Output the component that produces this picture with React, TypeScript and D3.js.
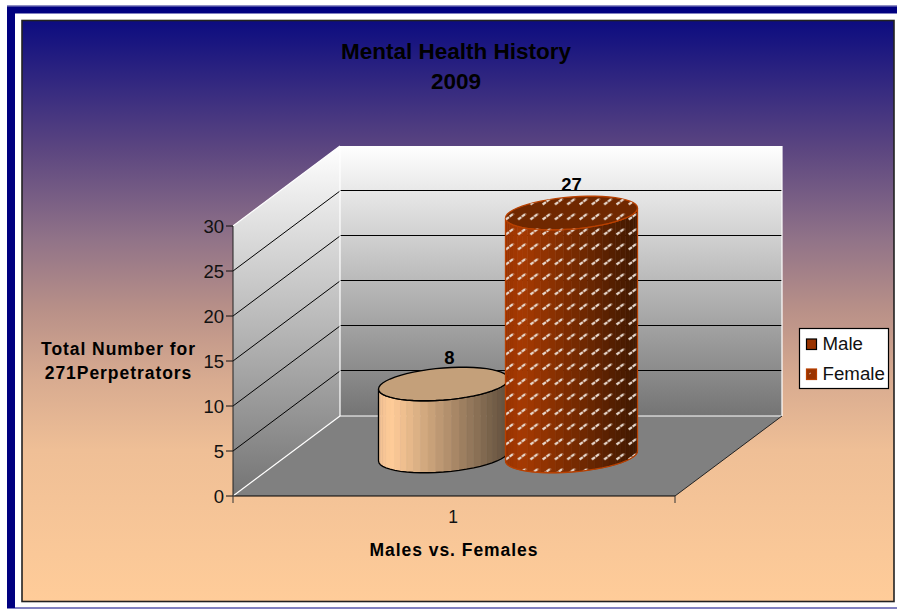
import React from 'react';
import * as d3 from 'd3';

const categories = ['1'];
const seriesNames = ['Male', 'Female'];
const seriesValues = [8, 27];
const yTicks = [0, 5, 10, 15, 20, 25, 30];
const titleLines = ['Mental Health History', '2009'];
const yTitleLines = ['Total Number for', '271Perpetrators'];
const xTitle = 'Males vs. Females';

const FONT = '"Liberation Sans", Arial, sans-serif';

// 3d box of the plot
const front = { left: 233, right: 675, bottom: 496, top: 226 };
const depth = { x: 107, y: -80 };

const y = d3.scaleLinear().domain([0, 30]).range([front.bottom, front.top]);
const xCat = d3.scaleBand().domain(categories).range([front.left, front.right]);
const xSeries = d3
  .scaleBand()
  .domain(seriesNames)
  .range([front.left + depth.x / 2, front.right + depth.x / 2])
  .paddingOuter(0.7266)
  .paddingInner(0);

const RY = 16;
const TILT = 5;
const FACETS = 26;

const shades = {
  Male: d3.scaleLinear<string>().domain([0, 0.1, 1]).range(['#f0c093', '#ffcc99', '#5f4e3c']),
  Female: d3.scaleLinear<string>().domain([0, 0.12, 1]).range(['#993300', '#a63a02', '#3f1800']),
};

const rimPoint = (cx: number, cy: number, rx: number, t: number): [number, number] => [
  cx + rx * Math.cos(t),
  cy + RY * Math.sin(t) - TILT * Math.cos(t),
];

const closed = d3.line().curve(d3.curveLinearClosed);
const capAngles = d3.range(FACETS * 2).map((i) => (i * Math.PI) / FACETS);

function Cylinder({ name, value }: { name: string; value: number }) {
  const female = name === 'Female';
  const rx = female ? 66 : 65;
  const cx = xSeries(name)! + xSeries.bandwidth() / 2;
  const base = front.bottom + depth.y / 2;
  const h = y(0) - y(value);
  const top = base - h;
  const stroke = female ? '#b84000' : '#000';
  const shade = shades[name as 'Male' | 'Female'];

  // visible facets run from the right rim (t=0) round the front to the left rim (t=PI)
  const sideAngles = d3.range(FACETS + 1).map((i) => (i * Math.PI) / FACETS);
  const facets = sideAngles.slice(0, -1).map((t, i) => {
    const t2 = sideAngles[i + 1];
    const [x1, y1] = rimPoint(cx, top, rx, t);
    const [x2, y2] = rimPoint(cx, top, rx, t2);
    const [x3, y3] = rimPoint(cx, base, rx, t2);
    const [x4, y4] = rimPoint(cx, base, rx, t);
    const pos = ((x1 + x2) / 2 - (cx - rx)) / (2 * rx);
    const pts: [number, number][] = [[x1, y1], [x2, y2], [x3, y3], [x4, y4]];
    return { d: closed(pts)!, fill: shade(pos) };
  });
  const outline: [number, number][] = [
    ...sideAngles.map((t) => rimPoint(cx, base, rx, t)),
    ...sideAngles.slice().reverse().map((t) => rimPoint(cx, top, rx, t)),
  ];
  const cap = closed(capAngles.map((t) => rimPoint(cx, top, rx, t)))!;

  return (
    <g>
      {facets.map((f, i) => (
        <path key={i} d={f.d} fill={f.fill} stroke={f.fill} strokeWidth={0.5} />
      ))}
      {female && <path d={closed(outline)!} fill="url(#dashes)" />}
      <path d={closed(outline)!} fill="none" stroke={stroke} strokeWidth={1.3} />
      <path d={cap} fill={female ? '#702800' : '#c4a07a'} stroke={stroke} strokeWidth={1.3} />
      {female && <path d={cap} fill="url(#dashes)" stroke="none" />}
      <text
        x={cx + (female ? 0 : 6)}
        y={top - RY - (female ? 6 : 4)}
        textAnchor="middle"
        fontFamily={FONT}
        fontWeight="bold"
        fontSize={18.5}
        fill="#000"
      >
        {value}
      </text>
    </g>
  );
}

export default function App() {
  const backLeft = front.left + depth.x;
  const backRight = front.right + depth.x;
  const backTop = y(30) + depth.y;
  const backBottom = y(0) + depth.y;
  const sideWall = closed([
    [front.left, y(30)],
    [backLeft, backTop],
    [backLeft, backBottom],
    [front.left, y(0)],
  ])!;
  const floor = closed([
    [front.left, y(0)],
    [front.right, y(0)],
    [backRight, backBottom],
    [backLeft, backBottom],
  ])!;

  return (
    <svg
      width={897}
      height={610}
      style={{ position: 'absolute', left: 0, top: 0, background: '#fff' }}
    >
      <defs>
        <linearGradient id="panelBg" x1="0" y1="0" x2="0" y2="1">
          <stop offset="0" stopColor="#0c0c80" />
          <stop offset="0.22" stopColor="#5b4580" />
          <stop offset="0.377" stopColor="#917388" />
          <stop offset="0.497" stopColor="#b89088" />
          <stop offset="0.618" stopColor="#d8ab90" />
          <stop offset="0.74" stopColor="#efbf96" />
          <stop offset="1" stopColor="#ffcc99" />
        </linearGradient>
        <linearGradient id="wallBg" x1="0" y1="0" x2="0" y2="1">
          <stop offset="0" stopColor="#ffffff" />
          <stop offset="1" stopColor="#747474" />
        </linearGradient>
        <pattern id="dashes" width={12.3} height={15} patternUnits="userSpaceOnUse" y={3}>
          <path d="M1.5 6.5 L9.5 0.5" stroke="#e6d6cb" strokeWidth={2.2} strokeDasharray="4 0.8" />
        </pattern>
        <pattern id="swatchDots" width={8} height={8} patternUnits="userSpaceOnUse">
          <path d="M1 6 L3 5" stroke="#e8d8cc" strokeWidth={1} opacity={0.7} />
        </pattern>
      </defs>

      {/* page frame */}
      <rect x={7} y={5} width={900} height={603.5} fill="#000080" />
      <rect x={7} y={5} width={900} height={1.5} fill="#8f8fc4" />
      <rect x={15} y={13.5} width={890} height={594} fill="#fff" />
      <rect x={22} y={20.5} width={872} height={581} fill="url(#panelBg)" stroke="#222" strokeWidth={1.6} />

      {titleLines.map((t, i) => (
        <text
          key={t}
          x={456}
          y={59 + i * 30}
          textAnchor="middle"
          fontFamily={FONT}
          fontWeight="bold"
          fontSize={22.5}
          fill="#000"
        >
          {t}
        </text>
      ))}

      {/* walls and floor */}
      <rect
        x={backLeft}
        y={backTop}
        width={front.right - front.left}
        height={y(0) - y(30)}
        fill="url(#wallBg)"
      />
      <path d={sideWall} fill="url(#wallBg)" />
      <path d={floor} fill="#808080" />

      {yTicks.slice(1, -1).map((t) => (
        <g key={t} stroke="#000" strokeWidth={1}>
          <line x1={front.left} y1={y(t)} x2={backLeft} y2={y(t) + depth.y} />
          <line
            x1={backLeft}
            y1={y(t) + depth.y - 0.5}
            x2={backRight}
            y2={y(t) + depth.y - 0.5}
            shapeRendering="crispEdges"
          />
        </g>
      ))}
      <g stroke="#fff" strokeWidth={1.2} fill="none">
        <line x1={front.left} y1={y(0)} x2={backLeft} y2={backBottom} />
        <line x1={backLeft} y1={backBottom} x2={backRight} y2={backBottom} />
        <line x1={backRight} y1={backTop} x2={backRight} y2={backBottom} />
        <line x1={backLeft} y1={backTop} x2={backLeft} y2={backBottom} />
        <line x1={front.left} y1={y(30)} x2={backLeft} y2={backTop} />
      </g>

      {/* axes */}
      <line x1={front.right} y1={y(0)} x2={backRight} y2={backBottom} stroke="#222" strokeWidth={1} />
      <line x1={front.left} y1={y(0)} x2={front.right} y2={y(0)} stroke="#000" strokeWidth={1.2} />
      <line x1={front.left} y1={y(30)} x2={front.left} y2={y(0)} stroke="#222" strokeWidth={1} />
      {yTicks.map((t) => (
        <g key={t}>
          <line x1={front.left - 7} y1={y(t)} x2={front.left} y2={y(t)} stroke="#111" />
          <text
            x={front.left - 9}
            y={y(t) + 6.5}
            textAnchor="end"
            fontFamily={FONT}
            fontSize={18.5}
            fill="#111"
          >
            {t}
          </text>
        </g>
      ))}
      {[front.left, front.right].map((x) => (
        <line key={x} x1={x} y1={y(0)} x2={x} y2={y(0) + 7} stroke="#333" />
      ))}
      {categories.map((c) => (
        <text
          key={c}
          x={xCat(c)! + xCat.bandwidth() / 2 - 1}
          y={523}
          textAnchor="middle"
          fontFamily={FONT}
          fontSize={17.5}
          fill="#111"
        >
          {c}
        </text>
      ))}

      {seriesNames.map((n, i) => (
        <Cylinder key={n} name={n} value={seriesValues[i]} />
      ))}

      {yTitleLines.map((t, i) => (
        <text
          key={t}
          x={118.5}
          y={354.5 + i * 24.5}
          textAnchor="middle"
          fontFamily={FONT}
          fontWeight="bold"
          fontSize={17.5}
          letterSpacing={0.95}
          fill="#000"
        >
          {t}
        </text>
      ))}
      <text
        x={454}
        y={555.5}
        textAnchor="middle"
        fontFamily={FONT}
        fontWeight="bold"
        fontSize={17.5}
        letterSpacing={0.95}
        fill="#000"
      >
        {xTitle}
      </text>

      {/* legend */}
      <rect x={799.5} y={328.5} width={89} height={60} fill="#fff" stroke="#000" strokeWidth={1.2} />
      {seriesNames.map((n, i) => (
        <g key={n}>
          <rect
            x={806.5}
            y={339 + i * 30}
            width={10}
            height={10.5}
            fill="#993300"
            stroke={i === 0 ? '#000' : '#b84000'}
            strokeWidth={1.2}
          />
          {i === 1 && <rect x={806.5} y={369} width={10} height={10.5} fill="url(#swatchDots)" />}
          <text x={822.5} y={350 + i * 30} fontFamily={FONT} fontSize={18.7} fill="#111">
            {n}
          </text>
        </g>
      ))}
    </svg>
  );
}
